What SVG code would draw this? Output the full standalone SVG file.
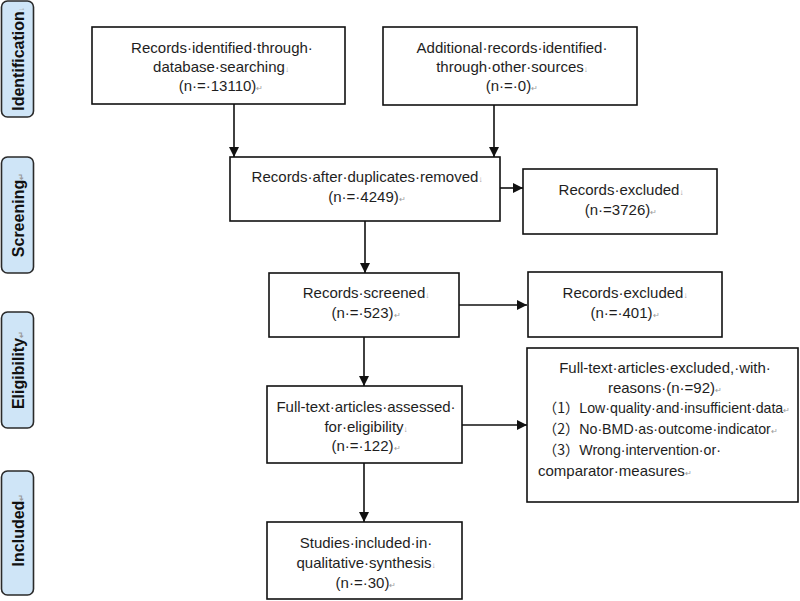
<svg xmlns="http://www.w3.org/2000/svg" width="800" height="601" viewBox="0 0 800 601">
<style>
  .box { fill: #ffffff; stroke: #111111; stroke-width: 1.6; }
  .side { fill: #cfe5f7; stroke: #2a2a2a; stroke-width: 1.6; }
  .t { font-family: "Liberation Sans", Arial, sans-serif; font-size: 15px; fill: #1e1e1e; }
  .s { font-size: 14.2px; }
  .c { text-anchor: middle; }
  .st { font-family: "Liberation Sans", Arial, sans-serif; font-size: 16px; font-weight: bold; fill: #111111; text-anchor: middle; }
  .m { font-size: 8px; fill: #9a9a9a; }
  .cjk { font-family: "Noto Sans CJK SC", sans-serif; }
  .conn { stroke: #111111; stroke-width: 1.6; fill: none; marker-end: url(#ah); }
</style>
<defs>
  <marker id="ah" markerUnits="userSpaceOnUse" markerWidth="10" markerHeight="10" viewBox="0 0 10 10" refX="10" refY="5" orient="auto">
    <path d="M0,0 L10,5 L0,10 z" fill="#111111"/>
  </marker>
</defs>
<rect width="800" height="601" fill="#ffffff"/>

<g id="side-identification">
  <rect class="side" x="1.5" y="1" width="32" height="116" rx="6"/>
  <text class="st" transform="translate(24,59) rotate(-90)">Identification<tspan class="m">↓</tspan></text>
</g>
<g id="side-screening">
  <rect class="side" x="1.5" y="157" width="32" height="116" rx="6"/>
  <text class="st" transform="translate(24,215) rotate(-90)">Screening<tspan class="m">↵</tspan></text>
</g>
<g id="side-eligibility">
  <rect class="side" x="1.5" y="312" width="32" height="116" rx="6"/>
  <text class="st" transform="translate(24,370) rotate(-90)">Eligibility<tspan class="m">↵</tspan></text>
</g>
<g id="side-included">
  <rect class="side" x="1.5" y="471" width="32" height="124" rx="6"/>
  <text class="st" transform="translate(24,530) rotate(-90)">Included<tspan class="m">↵</tspan></text>
</g>

<g id="connectors">
  <line class="conn" x1="234" y1="104" x2="234" y2="157"/>
  <line class="conn" x1="494" y1="105" x2="494" y2="157"/>
  <line class="conn" x1="500" y1="188" x2="523" y2="188"/>
  <line class="conn" x1="365" y1="221" x2="365" y2="273"/>
  <line class="conn" x1="459" y1="305" x2="527" y2="305"/>
  <line class="conn" x1="364" y1="337" x2="364" y2="386"/>
  <line class="conn" x1="462" y1="425" x2="527" y2="425"/>
  <line class="conn" x1="364" y1="463" x2="364" y2="522"/>
</g>

<g id="n-db">
  <rect class="box" x="92" y="27" width="253" height="77"/>
  <text class="t c" x="222" y="53">Records·identified·through·</text>
  <text class="t c" x="221" y="72">database·searching<tspan class="m">↓</tspan></text>
  <text class="t c" x="221" y="91">(n·=·13110)<tspan class="m">↵</tspan></text>
</g>
<g id="n-other">
  <rect class="box" x="383" y="27" width="254" height="78"/>
  <text class="t c" x="512" y="53">Additional·records·identified·</text>
  <text class="t c" x="512" y="72">through·other·sources<tspan class="m">↓</tspan></text>
  <text class="t c" x="512" y="91">(n·=·0)<tspan class="m">↵</tspan></text>
</g>
<g id="n-dup">
  <rect class="box" x="230" y="157" width="270" height="64"/>
  <text class="t c" x="367" y="182">Records·after·duplicates·removed<tspan class="m">↓</tspan></text>
  <text class="t c" x="367" y="202">(n·=·4249)<tspan class="m">↵</tspan></text>
</g>
<g id="n-excl1">
  <rect class="box" x="523" y="169" width="194" height="65"/>
  <text class="t c" x="621" y="195">Records·excluded<tspan class="m">↓</tspan></text>
  <text class="t c" x="621" y="215">(n·=3726)<tspan class="m">↵</tspan></text>
</g>
<g id="n-screened">
  <rect class="box" x="269" y="273" width="190" height="64"/>
  <text class="t c" x="366" y="298">Records·screened<tspan class="m">↓</tspan></text>
  <text class="t c" x="366" y="318">(n·=·523)<tspan class="m">↵</tspan></text>
</g>
<g id="n-excl2">
  <rect class="box" x="528" y="272" width="194" height="65"/>
  <text class="t c" x="625" y="298">Records·excluded<tspan class="m">↓</tspan></text>
  <text class="t c" x="625" y="318">(n·=·401)<tspan class="m">↵</tspan></text>
</g>
<g id="n-fulltext">
  <rect class="box" x="267" y="386" width="195" height="77"/>
  <text class="t c" x="366" y="412">Full-text·articles·assessed·</text>
  <text class="t c" x="366" y="432">for·eligibility<tspan class="m">↓</tspan></text>
  <text class="t c" x="366" y="451">(n·=·122)<tspan class="m">↵</tspan></text>
</g>
<g id="n-excl3">
  <rect class="box" x="527" y="348" width="271" height="154"/>
  <text class="t c" x="665" y="373">Full-text·articles·excluded,·with·</text>
  <text class="t c" x="665" y="393">reasons·(n·=92)<tspan class="m">↵</tspan></text>
  <text class="t s" x="543" y="413"><tspan class="cjk">（1）</tspan>Low·quality·and·insufficient·data<tspan class="m">↵</tspan></text>
  <text class="t s" x="543" y="434"><tspan class="cjk">（2）</tspan>No·BMD·as·outcome·indicator<tspan class="m">↵</tspan></text>
  <text class="t s" x="543" y="455"><tspan class="cjk">（3）</tspan>Wrong·intervention·or·</text>
  <text class="t" x="538" y="476">comparator·measures<tspan class="m">↵</tspan></text>
</g>
<g id="n-included">
  <rect class="box" x="267" y="522" width="195" height="77"/>
  <text class="t c" x="366" y="548">Studies·included·in·</text>
  <text class="t c" x="366" y="568">qualitative·synthesis<tspan class="m">↓</tspan></text>
  <text class="t c" x="366" y="588">(n·=·30)<tspan class="m">↵</tspan></text>
</g>
</svg>
